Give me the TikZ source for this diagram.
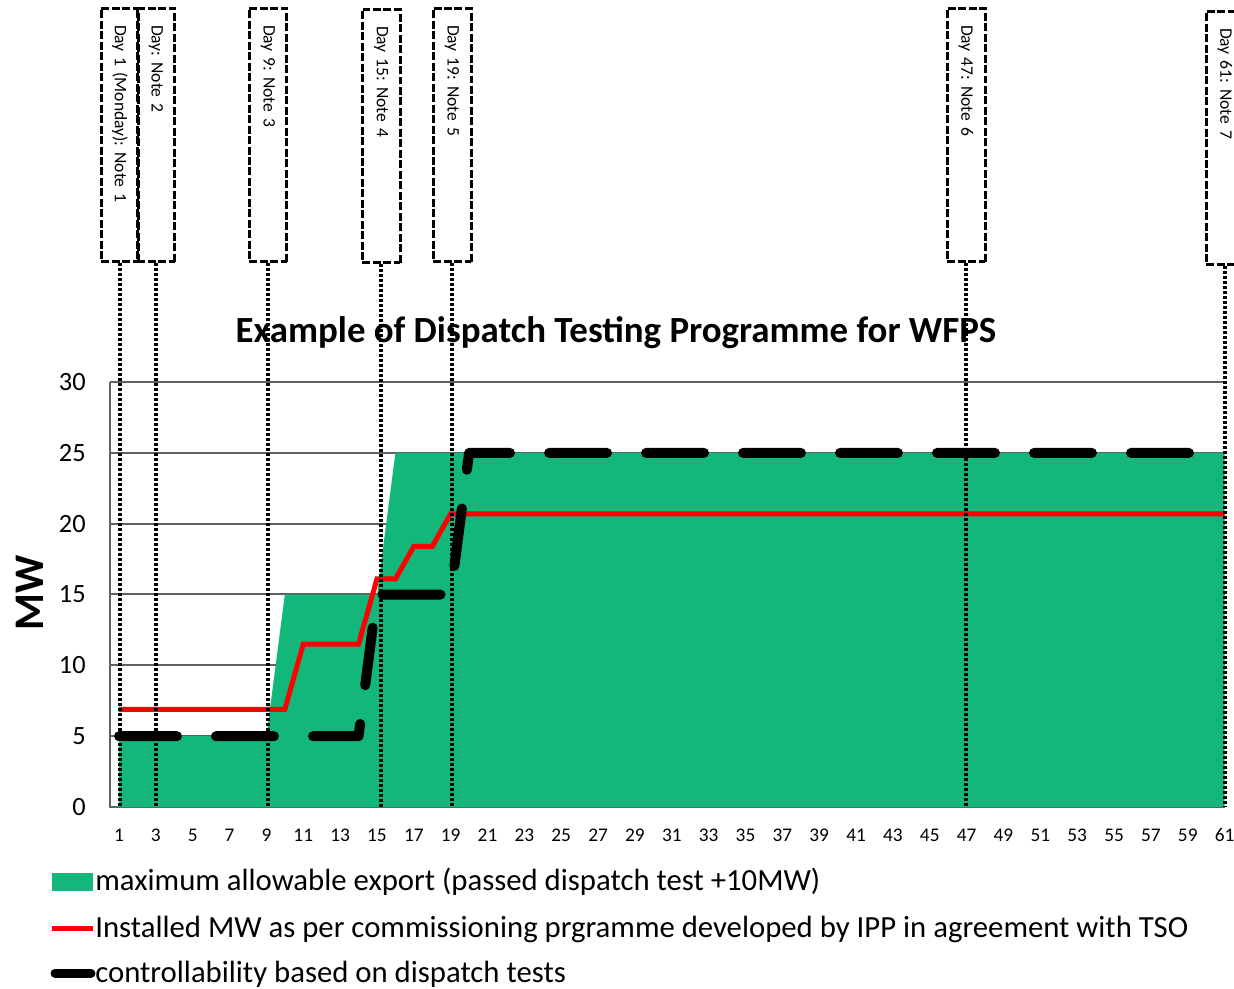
\documentclass[tikz,border=0pt]{standalone}
\usepackage{fontspec}
\setmainfont{Carlito}
\usepackage{xcolor}
\usepackage{tikz}
\usetikzlibrary{arrows}

\definecolor{exportgreen}{RGB}{19,183,122}
\definecolor{gridgray}{RGB}{96,96,96}
\definecolor{installred}{RGB}{255,0,0}

\begin{document}
\frenchspacing
\begin{tikzpicture}[x=0.02cm,y=-0.02cm,
		notebox/.style={draw,rotate=-90,line width=0.06cm,dash pattern=on 0.16cm off 0.05cm,
			minimum width=5.08cm,minimum height=0.76cm,text width=4.4cm,align=left,
			inner xsep=0.34cm,inner ysep=0pt,font=\fontsize{10}{12}\selectfont},
		dotline/.style={line width=0.07cm,dash pattern=on 0.06cm off 0.04cm},
		gridline/.style={draw=gridgray,line width=0.04cm},
		ticklabel/.style={inner sep=0pt,font=\fontsize{15}{18}\selectfont},
		legendtext/.style={anchor=base west,inner sep=0pt,font=\fontsize{17.5}{21}\selectfont}]
		\useasboundingbox (0,0) rectangle (1234,989);
		\clip (0,0) rectangle (1234,989);
		%
		% grid and frame
		\foreach \v in {5,10,...,30}
			\draw[gridline] (110,{807-14.1667*\v}) -- (1225,{807-14.1667*\v});
		\draw[gridline] (110,382) -- (110,807) -- (1225,807);
		%
		% data, in days and MW
		\begin{scope}[shift={(100.57,807)},x=0.3686cm,y=0.28333cm]
			\fill[exportgreen] (1,0) -- (1,5) -- (9,5) -- (10,15) -- (15,15) -- (16,25)
				-- (61,25) -- (61,0) -- cycle;
			\draw[installred,line width=0.1cm] (1,6.9) -- (10,6.9) -- (11,11.5) -- (14,11.5)
				-- (15,16.1) -- (16,16.1) -- (17,18.4) -- (18,18.4) -- (19,20.7) -- (61,20.7);
			\draw[line width=0.2cm,line cap=round,line join=round,dash pattern=on 1.16cm off 0.78cm]
				(1,5) -- (14,5) -- (15,15) -- (19,15) -- (20,25) -- (61,25);
			\foreach \d in {1,3,...,61}
				\node[inner sep=0pt,font=\fontsize{11}{13}\selectfont] (x\d) at (\d,-2) {\d};
		\end{scope}
		%
		% axis labels
		\foreach \v in {0,5,...,30}
			\node[ticklabel,anchor=east] (y\v) at (86,{807-14.1667*\v}) {\v};
		\node[rotate=90,inner sep=0pt,font=\bfseries\fontsize{24}{28}\selectfont] (MW) at (30,593) {MW};
		\node[inner sep=0pt,font=\bfseries\fontsize{21}{25}\selectfont] (T) at (616,333)
			{Example of Dispatch Testing Programme for WFPS};
		%
		% notes
		\node[notebox] (N1) at (120,135) {Day 1 (Monday): Note 1};
		\node[notebox] (N2) at (156,135) {Day: Note 2};
		\node[notebox] (N3) at (268,135) {Day 9: Note 3};
		\node[notebox] (N4) at (381,136) {Day 15: Note 4};
		\node[notebox] (N5) at (452,135) {Day 19: Note 5};
		\node[notebox] (N6) at (966,135) {Day 47: Note 6};
		\node[notebox] (N7) at (1225,138) {Day 61: Note 7};
		\coordinate (B1) at (120,807);
		\coordinate (B2) at (156,807);
		\coordinate (B3) at (268,807);
		\coordinate (B4) at (381,807);
		\coordinate (B5) at (452,807);
		\coordinate (B6) at (966,807);
		\coordinate (B7) at (1225,807);
		%
		\path[dotline]
		% vertical lines
		(N1.east) edge (B1)
		(N2.east) edge (B2)
		(N3.east) edge (B3)
		(N4.east) edge (B4)
		(N5.east) edge (B5)
		(N6.east) edge (B6)
		(N7.east) edge (B7);
		%
		% legend
		\fill[exportgreen] (52,873) rectangle (93,891);
		\draw[installred,line width=0.1cm] (52,928) -- (93,928);
		\draw[line width=0.18cm,line cap=round] (55,973) -- (91,973);
		\node[legendtext] (L1) at (95,890) {maximum allowable export (passed dispatch test +10MW)};
		\node[legendtext] (L2) at (95,937) {Installed MW as per commissioning prgramme developed by IPP in agreement with TSO};
		\node[legendtext] (L3) at (95,982) {controllability based on dispatch tests};
	\end{tikzpicture}
\end{document}
